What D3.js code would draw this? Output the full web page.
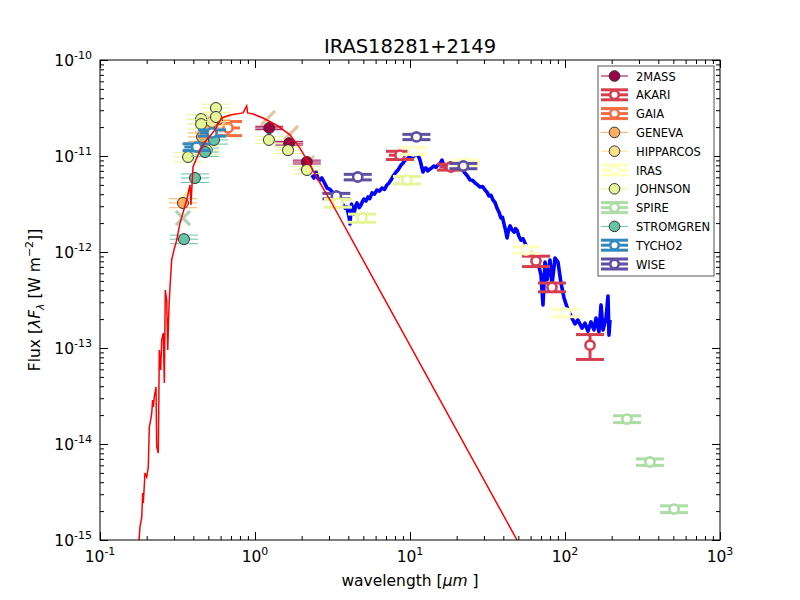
<html>
  <head>
    <script src="https://d3js.org/d3.v7.min.js"></script>
    <style>
      body { margin: 0; background: #fff; }
      text { font-family: "DejaVu Sans", sans-serif; }
    </style>
  </head>

  <body>
    <svg id="vis"></svg>
  </body>

  <script>
    // photometry: [wavelength (um), flux (W m-2), flux error, (optional) wavelength range lo, hi]
    var p2MASS = [[1.235, 1.96e-11, 0.8e-12], [1.662, 1.36e-11, 0.6e-12], [2.159, 8.66e-12, 0.4e-12]]
    var pAKARI = [[8.61, 1.02e-11, 1.0e-12, 7.3, 8.61], [18.4, 7.68e-12, 0.55e-12, 15.5, 18.4], [65, 8.05e-13, 1.0e-13],
                  [82.4, 4.3e-13, 0.45e-13], [145, 1.07e-13, 0.31e-13]]
    var pGAIA = [[0.67, 1.96e-11, 3.3e-12, 0.67, 0.8]]
    var pGENEVA = [[0.343, 3.24e-12, 0.35e-12], [0.455, 1.58e-11, 1.6e-12], [0.505, 1.96e-11, 1.8e-12],
                   [0.569, 2.37e-11, 2.2e-12]]
    var pHIPPARCOS = [[0.528, 2.26e-11, 1.8e-12]]
    var pIRAS = [[10.5, 1.13e-11, 0.9e-12], [23, 8.45e-12, 0.6e-12], [56, 1.05e-12, 0.8e-13], [100, 2.32e-13, 0.2e-13]]
    var pJOHNSON = [[0.37, 9.76e-12, 1.1e-12], [0.449, 2.43e-11, 2.6e-12], [0.449, 2.15e-11, 2.4e-12],
                    [0.488, 1.15e-11, 1.2e-12], [0.56, 3.16e-11, 3.0e-12], [0.56, 2.55e-11, 2.6e-12],
                    [1.23, 1.47e-11, 1.2e-12], [1.633, 1.15e-11, 0.9e-12], [2.165, 7.15e-12, 0.6e-12]]
    var pJOHNSONopen = [[3.43, 3.23e-12, 0.3e-12], [4.9, 2.26e-12, 0.22e-12], [9.56, 5.62e-12, 0.5e-12]]
    var pSPIRE = [[251, 1.82e-14, 0.15e-14], [353, 6.49e-15, 0.5e-15], [505, 2.10e-15, 0.17e-15]]
    var pSTROMGREN = [[0.348, 1.36e-12, 0.14e-12], [0.41, 5.9e-12, 0.6e-12], [0.476, 1.10e-11, 1.1e-12],
                      [0.544, 1.47e-11, 1.4e-12]]
    var pTYCHO2 = [[0.42, 1.24e-11, 1.0e-12, 0.35, 0.47], [0.528, 1.74e-11, 1.3e-12, 0.44, 0.56]]
    var pWISE = [[3.35, 3.83e-12, 0.25e-12], [4.6, 6.04e-12, 0.4e-12], [11.0, 1.58e-11, 1.0e-12], [22.1, 7.87e-12, 0.5e-12]]

    // extra marks: [wavelength, flux, colour name, full cross?]
    var crossPts = [[0.343, 2.26e-12, "tan", true], [0.343, 2.26e-12, "teal", true], [0.3535, 3.92e-12, "lime", false],
                    [1.213, 2.49e-11, "tan", false], [1.708, 1.74e-11, "tan", false], [2.165, 8.45e-12, "tan", false]]

    var bandNames = ["2MASS", "AKARI", "GAIA", "GENEVA", "HIPPARCOS", "IRAS", "JOHNSON", "SPIRE", "STROMGREN", "TYCHO2", "WISE"]
    var bandColors = ["#9e0142", "#d53e4f", "#f46d43", "#fdae61", "#fee08b", "#ffffbf", "#e6f598", "#abdda4", "#66c2a5", "#3288bd", "#5e4fa2"]
    var bandOpen = [false, true, true, false, false, true, false, true, false, true, true]
    var bandPoints = [p2MASS, pAKARI, pGAIA, pGENEVA, pHIPPARCOS, pIRAS, pJOHNSON, pSPIRE, pSTROMGREN, pTYCHO2, pWISE]

    // stellar model (red) [wavelength, flux]
    var stellarModel = [
      [0.1786, 1e-15], [0.181, 1.36e-15], [0.186, 1.74e-15], [0.1886, 3.09e-15], [0.1903, 2.43e-15],
      [0.1951, 4.99e-15], [0.2001, 4.53e-15], [0.2049, 5.75e-15], [0.208, 1.50e-14], [0.2124, 1.78e-14],
      [0.2156, 2.10e-14], [0.2188, 2.87e-14], [0.2208, 2.43e-14], [0.224, 3.09e-14], [0.2298, 3.93e-14],
      [0.2322, 9.31e-15], [0.2377, 8.05e-15], [0.2392, 2.10e-14], [0.2413, 9.53e-14], [0.2464, 5.90e-14],
      [0.25, 1.21e-13], [0.256, 1.43e-13], [0.26, 4.32e-14], [0.2638, 4.02e-13], [0.2694, 3.16e-13],
      [0.2735, 9.53e-14], [0.2786, 2.67e-13], [0.283, 4.32e-13], [0.29, 8.26e-13], [0.30, 1.05e-12],
      [0.3126, 1.33e-12], [0.328, 2.0e-12], [0.3625, 3.48e-12], [0.381, 4.99e-12], [0.386, 3.09e-12],
      [0.398, 7.68e-12], [0.4418, 1.15e-11], [0.488, 1.47e-11], [0.552, 1.87e-11], [0.61, 2.49e-11],
      [0.69, 2.67e-11], [0.837, 2.81e-11], [0.884, 3.32e-11], [0.895, 2.81e-11], [0.971, 2.74e-11],
      [1.126, 2.49e-11], [1.38, 2.10e-11], [1.682, 1.66e-11], [1.95, 1.21e-11], [2.264, 8.05e-12],
      [2.63, 5.23e-12], [3.05, 3.48e-12], [49, 1e-15]
    ]

    // observed spectrum (blue) [wavelength, flux]
    var irSpectrum = [
      [2.332, 6.34e-12], [2.40, 5.9e-12], [2.475, 6.81e-12], [2.55, 5.8e-12], [2.627, 5.62e-12], [2.70, 5.9e-12],
      [2.787, 5.36e-12], [2.85, 5.0e-12], [2.914, 4.64e-12], [3.05, 4.5e-12], [3.186, 4.12e-12], [3.28, 3.9e-12],
      [3.381, 3.65e-12], [3.45, 3.9e-12], [3.535, 3.32e-12], [3.65, 3.2e-12], [3.806, 2.87e-12], [3.9, 2.95e-12],
      [3.981, 2.61e-12], [4.05, 2.3e-12], [4.1, 1.96e-12], [4.15, 2.6e-12], [4.195, 3.16e-12], [4.27, 2.7e-12],
      [4.352, 2.49e-12], [4.45, 3.0e-12], [4.55, 3.24e-12], [4.7, 2.9e-12], [4.83, 3.09e-12], [4.95, 3.4e-12],
      [5.05, 3.56e-12], [5.2, 3.4e-12], [5.36, 3.74e-12], [5.5, 3.6e-12], [5.69, 4.12e-12], [5.9, 4.0e-12],
      [6.12, 4.42e-12], [6.35, 4.3e-12], [6.6, 4.64e-12], [6.85, 4.5e-12], [7.1, 4.99e-12], [7.3, 5.2e-12],
      [7.54, 5.62e-12], [7.8, 6.2e-12], [8.13, 6.81e-12], [8.4, 7.2e-12], [8.75, 8.05e-12], [9.0, 8.4e-12],
      [9.29, 9.08e-12], [9.6, 9.3e-12], [9.86, 9.76e-12], [10.2, 9.5e-12], [10.6, 1.0e-11], [10.9, 1.05e-11],
      [11.26, 1.02e-11], [11.6, 9.08e-12], [12.13, 6.81e-12], [12.4, 7.4e-12],
      [12.68, 7.5e-12], [13.0, 7.0e-12], [13.46, 7.32e-12], [13.9, 7.6e-12], [14.29, 7.87e-12], [14.7, 7.6e-12],
      [15.16, 8.05e-12], [15.6, 8.3e-12], [16.08, 9.08e-12], [16.4, 8.2e-12],
      [16.8, 7.68e-12], [17.4, 8.0e-12], [18.11, 8.45e-12], [18.8, 8.0e-12], [19.5, 8.05e-12], [20.2, 7.8e-12],
      [21.0, 7.5e-12], [21.8, 7.2e-12], [22.6, 6.65e-12], [23.5, 6.2e-12],
      [24.4, 5.62e-12], [25.3, 5.6e-12], [26.3, 5.23e-12], [27.3, 5.0e-12], [28.3, 4.75e-12], [29.4, 4.8e-12],
      [30.5, 4.42e-12], [31.4, 4.2e-12], [32.3, 3.83e-12], [33.3, 3.9e-12],
      [34.3, 3.48e-12], [35.3, 3.3e-12], [36.4, 2.87e-12], [37.5, 2.6e-12], [38.6, 2.26e-12], [39.5, 2.3e-12],
      [40.4, 1.96e-12], [41.3, 1.7e-12], [42.3, 1.40e-12], [43.2, 1.7e-12],
      [44.2, 1.87e-12], [45.5, 1.7e-12], [46.9, 1.61e-12], [48.0, 1.75e-12], [49.0, 1.69e-12], [50.5, 1.45e-12],
      [52.0, 1.33e-12], [53.5, 1.38e-12], [55.2, 1.24e-12], [57.3, 1.1e-12],
      [59.4, 1.0e-12], [61.5, 9.5e-13], [64.0, 8.87e-13], [66.9, 7.87e-13], [70.0, 5.75e-13], [72.1, 2.81e-13],
      [74.3, 7.87e-13], [76.5, 5.11e-13], [80.0, 8.26e-13], [82.4, 4.53e-13], [86.2, 8.66e-13],
      [90.1, 7.87e-13], [94.2, 4.75e-13], [98.6, 3.32e-13], [104.5, 2.49e-13], [111, 2.05e-13],
      [116, 1.78e-13], [121, 1.96e-13], [128.8, 1.61e-13], [134.6, 1.82e-13], [140.7, 1.50e-13],
      [147.2, 1.87e-13], [153.8, 1.54e-13], [158.5, 2.05e-13], [165.6, 1.47e-13], [170.8, 2.81e-13],
      [175.9, 1.54e-13], [184, 2.05e-13], [189.4, 3.48e-13], [192.2, 1.36e-13], [195, 1.96e-13]
    ]

    var xMajor = [0.1, 1, 10, 100, 1000]
    var yMajor = [1e-15, 1e-14, 1e-13, 1e-12, 1e-11, 1e-10]

    var width = 800, height = 600
    var plot = {left: 100, right: 720, top: 60, bottom: 540}

    var svg = d3.select('svg')
      .attr("width", width)
      .attr("height", height)

    var x = d3.scaleLog().domain([0.1, 1000]).range([plot.left, plot.right])
    var y = d3.scaleLog().domain([1e-15, 1e-10]).range([plot.bottom, plot.top])

    var minorX = [], minorY = []
    xMajor.slice(0, -1).forEach(function(v){ for (var k = 2; k < 10; k++) minorX.push(v * k) })
    yMajor.slice(0, -1).forEach(function(v){ for (var k = 2; k < 10; k++) minorY.push(v * k) })

    svg.append("defs").append("clipPath").attr("id", "clip")
      .append("rect")
      .attr("x", plot.left).attr("y", plot.top)
      .attr("width", plot.right - plot.left).attr("height", plot.bottom - plot.top)

    var line = d3.line().x(function(d){ return x(d[0]) }).y(function(d){ return y(d[1]) })

    var inner = svg.append("g").attr("clip-path", "url(#clip)")

    // blue spectrum under the markers
    inner.append("path")
      .datum(irSpectrum)
      .attr("d", line)
      .attr("fill", "none")
      .attr("stroke", "#0000ff")
      .attr("stroke-width", 3.6)
      .attr("stroke-linejoin", "round")

    var crossColors = {tan: "#e3b98a", teal: "#9fd6c0", lime: "#e6f598"}
    inner.selectAll("g.cross").data(crossPts).enter()
      .append("g").attr("class", "cross")
      .attr("transform", function(d){ return "translate(" + x(d[0]) + "," + y(d[1]) + ")" })
      .each(function(d){
        var g = d3.select(this)
        g.append("line").attr("x1", -7).attr("y1", 7).attr("x2", 7).attr("y2", -7)
        if (d[3]) g.append("line").attr("x1", -7).attr("y1", -7).attr("x2", 7).attr("y2", 7)
        g.selectAll("line").attr("stroke", crossColors[d[2]]).attr("stroke-width", 3).attr("opacity", 0.85)
      })

    var capW = 14

    function drawPoint(g, d, color, open) {
      var cx = x(d[0]), cy = y(d[1])
      var yTop = y(d[1] + d[2]), yBot = y(d[1] - d[2])
      var lw = open ? 3 : 1
      g.append("line").attr("x1", cx).attr("x2", cx).attr("y1", yTop).attr("y2", yBot)
      g.append("line").attr("x1", cx - capW).attr("x2", cx + capW).attr("y1", yTop).attr("y2", yTop)
      g.append("line").attr("x1", cx - capW).attr("x2", cx + capW).attr("y1", yBot).attr("y2", yBot)
      if (d.length > 3) {
        g.append("line").attr("x1", x(d[3])).attr("x2", x(d[4])).attr("y1", cy).attr("y2", cy)
      } else if (!open) {
        g.append("line").attr("x1", cx - capW).attr("x2", cx + capW).attr("y1", cy).attr("y2", cy)
      }
      g.selectAll("line").attr("stroke", color).attr("stroke-width", lw)
      if (open) {
        g.append("circle").attr("cx", cx).attr("cy", cy).attr("r", 4.6)
          .attr("fill", "#fff").attr("stroke", color).attr("stroke-width", 2.6)
      } else {
        g.append("circle").attr("cx", cx).attr("cy", cy).attr("r", 5.5)
          .attr("fill", color).attr("stroke", "#333").attr("stroke-width", 1)
      }
    }

    var markers = inner.append("g")
    bandPoints.forEach(function(pts, i){
      pts.forEach(function(d){ drawPoint(markers.append("g"), d, bandColors[i], bandOpen[i]) })
    })
    pJOHNSONopen.forEach(function(d){ drawPoint(markers.append("g"), d, bandColors[6], true) })

    // stellar model on top
    inner.append("path")
      .datum(stellarModel)
      .attr("d", line)
      .attr("fill", "none")
      .attr("stroke", "#ff0000")
      .attr("stroke-width", 1.5)

    // frame
    svg.append("rect")
      .attr("x", plot.left).attr("y", plot.top)
      .attr("width", plot.right - plot.left).attr("height", plot.bottom - plot.top)
      .attr("fill", "none").attr("stroke", "#000").attr("stroke-width", 1)

    // ticks, inward on all sides
    function ticks(axisFn, scale, values, size, tx, ty) {
      svg.append("g")
        .attr("transform", "translate(" + tx + "," + ty + ")")
        .call(axisFn(scale).tickValues(values).tickSize(-size).tickFormat(""))
        .call(function(g){ g.select(".domain").remove() })
        .selectAll("line").attr("stroke", "#000")
    }
    ticks(d3.axisBottom, x, xMajor, 8, 0, plot.bottom)
    ticks(d3.axisBottom, x, minorX, 4, 0, plot.bottom)
    ticks(d3.axisTop, x, xMajor, 8, 0, plot.top)
    ticks(d3.axisTop, x, minorX, 4, 0, plot.top)
    ticks(d3.axisLeft, y, yMajor, 8, plot.left, 0)
    ticks(d3.axisLeft, y, minorY, 4, plot.left, 0)
    ticks(d3.axisRight, y, yMajor, 8, plot.right, 0)
    ticks(d3.axisRight, y, minorY, 4, plot.right, 0)

    // tick labels as 10^n
    xMajor.forEach(function(v){
      var t = svg.append("text")
        .attr("x", x(v)).attr("y", plot.bottom + 22)
        .attr("text-anchor", "middle").attr("font-size", 15.5)
      t.append("tspan").text("10")
      t.append("tspan").attr("dy", -7).attr("font-size", 11).text(Math.round(Math.log10(v)))
    })
    yMajor.forEach(function(v){
      var t = svg.append("text")
        .attr("x", plot.left - 8).attr("y", y(v) + 6)
        .attr("text-anchor", "end").attr("font-size", 15.5)
      t.append("tspan").text("10")
      t.append("tspan").attr("dy", -7).attr("font-size", 11).text(Math.round(Math.log10(v)))
    })

    // title and labels
    svg.append("text")
      .attr("x", (plot.left + plot.right) / 2).attr("y", 53)
      .attr("text-anchor", "middle").attr("font-size", 19.5)
      .text("IRAS18281+2149")

    var xl = svg.append("text")
      .attr("x", (plot.left + plot.right) / 2).attr("y", 586)
      .attr("text-anchor", "middle").attr("font-size", 15.5)
    xl.append("tspan").text("wavelength [")
    xl.append("tspan").attr("font-style", "italic").text("\u03bcm")
    xl.append("tspan").text(" ]")

    var yl = svg.append("text")
      .attr("transform", "translate(40," + ((plot.top + plot.bottom) / 2) + ") rotate(-90)")
      .attr("text-anchor", "middle").attr("font-size", 15.5)
    yl.append("tspan").text("Flux [")
    yl.append("tspan").attr("font-style", "italic").text("\u03bbF")
    yl.append("tspan").attr("font-style", "italic").attr("font-size", 11).attr("dy", 4).text("\u03bb")
    yl.append("tspan").attr("dy", -4).text(" [W  m")
    yl.append("tspan").attr("font-size", 11).attr("dy", -7).text("\u22122")
    yl.append("tspan").attr("dy", 7).text("]]")

    // legend
    var lg = svg.append("g")
    lg.append("rect")
      .attr("x", 598).attr("y", 66).attr("width", 116).attr("height", 210)
      .attr("fill", "#fff").attr("stroke", "#555").attr("stroke-width", 1)
    bandNames.forEach(function(name, i){
      var cy = 76 + i * 18.8
      var g = lg.append("g")
      var c = bandColors[i]
      if (bandOpen[i]) {
        g.append("line").attr("x1", 601).attr("x2", 628).attr("y1", cy).attr("y2", cy)
        g.append("line").attr("x1", 601).attr("x2", 628).attr("y1", cy - 5).attr("y2", cy - 5)
        g.append("line").attr("x1", 601).attr("x2", 628).attr("y1", cy + 5).attr("y2", cy + 5)
        g.selectAll("line").attr("stroke", c).attr("stroke-width", 3)
        g.append("circle").attr("cx", 614.5).attr("cy", cy).attr("r", 4.3)
          .attr("fill", "#fff").attr("stroke", c).attr("stroke-width", 2.6)
      } else {
        g.append("line").attr("x1", 601).attr("x2", 628).attr("y1", cy).attr("y2", cy)
          .attr("stroke", c).attr("stroke-width", 1)
        g.append("circle").attr("cx", 614.5).attr("cy", cy).attr("r", 5.3)
          .attr("fill", c).attr("stroke", "#333").attr("stroke-width", 1)
      }
      g.append("text").attr("x", 636).attr("y", cy + 4.5)
        .attr("font-size", 11.5).text(name)
    })
  </script>
</html>
